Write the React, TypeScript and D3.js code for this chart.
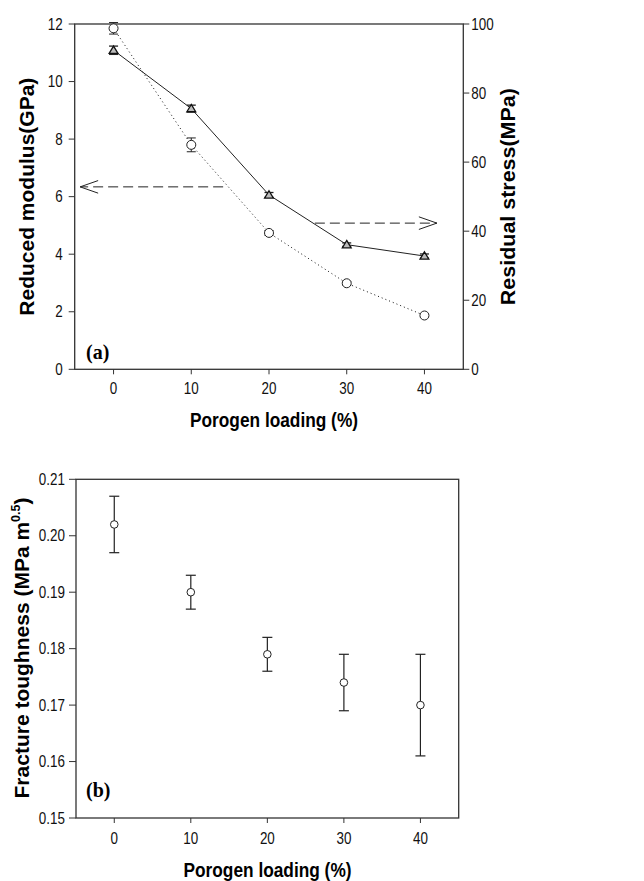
import * as d3 from "d3";

// panel (a)
const loading = [0, 10, 20, 30, 40];
const modulus = [11.85, 7.8, 4.74, 2.99, 1.87];
const modulusErr = [0.2, 0.24, 0.08, 0.06, 0.06];
const stress = [92.4, 75.5, 50.5, 36.1, 32.8];
const stressErr = [1.2, 1.0, 0.7, 0.5, 0.6];
const modulusTicks = [0, 2, 4, 6, 8, 10, 12];
const stressTicks = [0, 20, 40, 60, 80, 100];

// panel (b)
const toughness = [0.202, 0.19, 0.179, 0.174, 0.17];
const toughLow = [0.197, 0.187, 0.176, 0.169, 0.161];
const toughHigh = [0.207, 0.193, 0.182, 0.179, 0.179];
const toughTicks = [0.15, 0.16, 0.17, 0.18, 0.19, 0.2, 0.21];

// annotation arrows (x range, y in modulus units)
const arrowLeft = { from: 14.1, to: -4.3, y: 6.34 };
const arrowRight = { from: 25.9, to: 41.6, y: 5.08 };

const font = "'Liberation Sans', Arial, sans-serif";
const serif = "'Liberation Serif', 'Times New Roman', serif";
const axisColor = "#333";

// the original figure is a little stretched vertically, so text is too
const TickText = ({ x, y, anchor, children }) => (
  <text
    transform={`translate(${x},${y}) scale(0.96,1.15)`}
    dy="0.35em"
    textAnchor={anchor}
    fontFamily={font}
    fontSize={14}
    fill="#111"
  >
    {children}
  </text>
);

const App = () => {
  const xA = d3.scaleLinear().domain([-5, 45]).range([74.7, 463.3]);
  const yL = d3.scaleLinear().domain([0, 12]).range([369.3, 24]);
  const yR = d3.scaleLinear().domain([0, 100]).range([369.3, 24]);

  const xB = d3.scaleLinear().domain([-5, 45]).range([76, 458.7]);
  const yB = d3.scaleLinear().domain([0.15, 0.21]).range([818, 479.3]);

  const modLine = d3
    .line<number>()
    .x((d, i) => xA(loading[i]))
    .y((d) => yL(d));
  const stressLine = d3
    .line<number>()
    .x((d, i) => xA(loading[i]))
    .y((d) => yR(d));

  const tri = (cx: number, cy: number, s: number) =>
    `M${cx},${cy - s} L${cx + s * 1.05},${cy + s * 0.75} L${cx - s * 1.05},${cy + s * 0.75} Z`;

  const arrowHead = (tipX: number, y: number, dir: number) =>
    `M${tipX - dir * 18},${y - 6.3} L${tipX},${y} L${tipX - dir * 18},${y + 6.3}`;

  return (
    <svg
      width={644}
      height={881}
      style={{ position: "absolute", left: 0, top: 0, background: "white" }}
    >
      {/* ---------- panel (a) ---------- */}
      <g>
        <rect
          x={xA(-5)}
          y={yL(12)}
          width={xA(45) - xA(-5)}
          height={yL(0) - yL(12)}
          fill="none"
          stroke={axisColor}
          strokeWidth={1.3}
        />
        {/* left ticks */}
        {modulusTicks.map((t) => (
          <g key={"l" + t}>
            <line x1={xA(-5) - 6} x2={xA(-5)} y1={yL(t)} y2={yL(t)} stroke={axisColor} />
            <TickText x={xA(-5) - 12} y={yL(t)} anchor="end">
              {t}
            </TickText>
          </g>
        ))}
        {/* right ticks */}
        {stressTicks.map((t) => (
          <g key={"r" + t}>
            <line x1={xA(45)} x2={xA(45) + 6} y1={yR(t)} y2={yR(t)} stroke={axisColor} />
            <TickText x={xA(45) + 8} y={yR(t)} anchor="start">
              {t}
            </TickText>
          </g>
        ))}
        {/* x ticks */}
        {loading.map((t) => (
          <g key={"x" + t}>
            <line x1={xA(t)} x2={xA(t)} y1={yL(0)} y2={yL(0) + 5} stroke={axisColor} />
            <TickText x={xA(t)} y={yL(0) + 19} anchor="middle">
              {t}
            </TickText>
          </g>
        ))}

        {/* dotted modulus series */}
        <path
          d={modLine(modulus) || ""}
          fill="none"
          stroke="#111"
          strokeWidth={1}
          strokeDasharray="1,3"
        />
        {/* solid stress series */}
        <path d={stressLine(stress) || ""} fill="none" stroke="#222" strokeWidth={1} />

        {modulus.map((v, i) => (
          <g key={"m" + i}>
            <line
              x1={xA(loading[i])}
              x2={xA(loading[i])}
              y1={yL(v - modulusErr[i])}
              y2={yL(v + modulusErr[i])}
              stroke="#222"
            />
            {[v - modulusErr[i], v + modulusErr[i]].map((e, j) => (
              <line
                key={j}
                x1={xA(loading[i]) - 4.5}
                x2={xA(loading[i]) + 4.5}
                y1={yL(e)}
                y2={yL(e)}
                stroke="#222"
              />
            ))}
            <circle
              cx={xA(loading[i])}
              cy={yL(v)}
              r={4.5}
              fill="white"
              stroke="#222"
              strokeWidth={1}
            />
          </g>
        ))}

        {stress.map((v, i) => (
          <g key={"s" + i}>
            <line
              x1={xA(loading[i])}
              x2={xA(loading[i])}
              y1={yR(v - stressErr[i])}
              y2={yR(v + stressErr[i])}
              stroke="#222"
            />
            {[v - stressErr[i], v + stressErr[i]].map((e, j) => (
              <line
                key={j}
                x1={xA(loading[i]) - 4.5}
                x2={xA(loading[i]) + 4.5}
                y1={yR(e)}
                y2={yR(e)}
                stroke="#222"
                strokeWidth={1.3}
              />
            ))}
            <path
              d={tri(xA(loading[i]), yR(v), 4.2)}
              fill="#bbb"
              stroke="#111"
              strokeWidth={1.3}
            />
          </g>
        ))}

        {/* arrows */}
        <line
          x1={xA(arrowLeft.from)}
          x2={xA(arrowLeft.to)}
          y1={yL(arrowLeft.y)}
          y2={yL(arrowLeft.y)}
          stroke="#222"
          strokeDasharray="10,5"
        />
        <path
          d={arrowHead(xA(arrowLeft.to), yL(arrowLeft.y), -1)}
          fill="none"
          stroke="#222"
        />
        <line
          x1={xA(arrowRight.from)}
          x2={xA(arrowRight.to)}
          y1={yL(arrowRight.y)}
          y2={yL(arrowRight.y)}
          stroke="#222"
          strokeDasharray="10,5"
        />
        <path
          d={arrowHead(xA(arrowRight.to), yL(arrowRight.y), 1)}
          fill="none"
          stroke="#222"
        />

        <text
          transform="translate(86,359) scale(1,1.1)"
          fontFamily={serif}
          fontWeight="bold"
          fontSize={20}
        >
          (a)
        </text>

        {/* titles */}
        <text
          transform={`translate(34,${(yL(0) + yL(12)) / 2}) rotate(-90)`}
          textAnchor="middle"
          fontFamily={font}
          fontWeight="bold"
          fontSize={20}
          textLength={238}
          lengthAdjust="spacingAndGlyphs"
        >
          Reduced modulus(GPa)
        </text>
        <text
          transform={`translate(515,${(yL(0) + yL(12)) / 2}) rotate(-90)`}
          textAnchor="middle"
          fontFamily={font}
          fontWeight="bold"
          fontSize={20}
          textLength={217}
          lengthAdjust="spacingAndGlyphs"
        >
          Residual stress(MPa)
        </text>
        <text
          x={274}
          y={427}
          textAnchor="middle"
          fontFamily={font}
          fontWeight="bold"
          fontSize={20.5}
          textLength={168}
          lengthAdjust="spacingAndGlyphs"
        >
          Porogen loading (%)
        </text>
      </g>

      {/* ---------- panel (b) ---------- */}
      <g>
        <rect
          x={xB(-5)}
          y={yB(0.21)}
          width={xB(45) - xB(-5)}
          height={yB(0.15) - yB(0.21)}
          fill="none"
          stroke={axisColor}
          strokeWidth={1.3}
        />
        {toughTicks.map((t) => (
          <g key={"b" + t}>
            <line x1={xB(-5) - 7} x2={xB(-5)} y1={yB(t)} y2={yB(t)} stroke={axisColor} />
            <TickText x={xB(-5) - 11} y={yB(t)} anchor="end">
              {t.toFixed(2)}
            </TickText>
          </g>
        ))}
        {loading.map((t) => (
          <g key={"bx" + t}>
            <line x1={xB(t)} x2={xB(t)} y1={yB(0.15)} y2={yB(0.15) + 5} stroke={axisColor} />
            <TickText x={xB(t)} y={yB(0.15) + 20} anchor="middle">
              {t}
            </TickText>
          </g>
        ))}

        {toughness.map((v, i) => (
          <g key={"t" + i}>
            <line
              x1={xB(loading[i])}
              x2={xB(loading[i])}
              y1={yB(toughLow[i])}
              y2={yB(toughHigh[i])}
              stroke="#222"
              strokeWidth={1.2}
            />
            {[toughLow[i], toughHigh[i]].map((e, j) => (
              <line
                key={j}
                x1={xB(loading[i]) - 5}
                x2={xB(loading[i]) + 5}
                y1={yB(e)}
                y2={yB(e)}
                stroke="#222"
                strokeWidth={1.2}
              />
            ))}
            <circle
              cx={xB(loading[i])}
              cy={yB(v)}
              r={3.8}
              fill="white"
              stroke="#222"
              strokeWidth={1}
            />
          </g>
        ))}

        <text
          transform="translate(86,797) scale(1,1.1)"
          fontFamily={serif}
          fontWeight="bold"
          fontSize={20}
        >
          (b)
        </text>

        <text
          transform={`translate(29,648) rotate(-90)`}
          textAnchor="middle"
          fontFamily={font}
          fontWeight="bold"
          fontSize={21}
        >
          Fracture toughness (MPa m
          <tspan fontSize={12.5} dy={-9}>
            0.5
          </tspan>
          <tspan dy={9}>)</tspan>
        </text>
        <text
          x={267.5}
          y={877}
          textAnchor="middle"
          fontFamily={font}
          fontWeight="bold"
          fontSize={20.5}
          textLength={168}
          lengthAdjust="spacingAndGlyphs"
        >
          Porogen loading (%)
        </text>
      </g>
    </svg>
  );
};

export default App;
